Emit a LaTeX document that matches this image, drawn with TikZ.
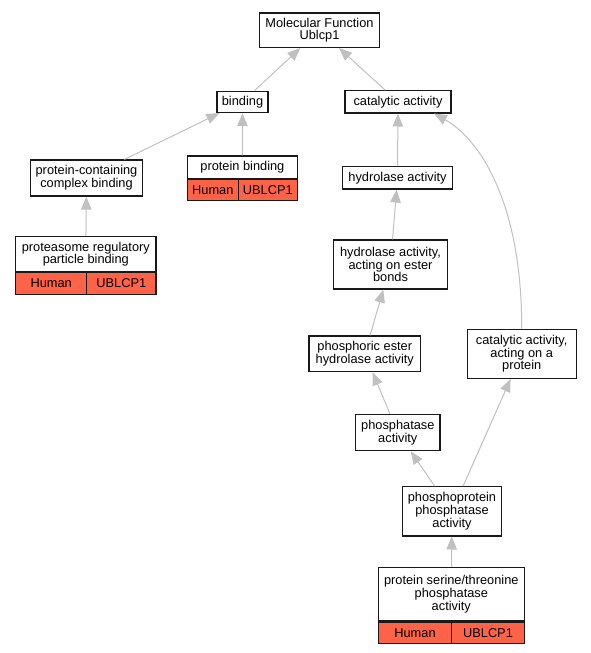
\documentclass[tikz,border=0pt]{standalone}
\usepackage{fontspec}
\setmainfont{Liberation Sans}
\usetikzlibrary{arrows.meta}
\newcommand{\gofont}{\fontsize{12.8}{12.7}\selectfont}
\definecolor{hitred}{HTML}{FF6347}
\definecolor{edgegray}{HTML}{C0C0C0}
\tikzset{
    BX/.style ={rectangle, draw=black!90, line width=1.1pt, fill=white, align=center, inner sep=1pt, font=\gofont},
    RD/.style ={BX, fill=hitred, minimum height=21.3pt},
    AR/.style ={draw=edgegray, line width=1pt, -{Triangle[length=13pt,width=10.5pt]}}}
\begin{document}
\begin{tikzpicture}[x=1pt,y=-1pt]
        \useasboundingbox (0,0) rectangle (591,653);
        \node[BX, minimum width=120pt, minimum height=34.5pt] (mf) at (319.5,30.2) {Molecular Function\\Ublcp1};
        \node[BX, minimum width=51pt, minimum height=21.5pt] (bnd) at (242.5,101.8) {binding};
        \node[BX, minimum width=106pt, minimum height=22.3pt] (cat) at (398,101.8) {catalytic activity};
        \node[BX, minimum width=112pt, minimum height=36pt] (pccb) at (86.5,178) {protein-containing\\complex binding};
        \node[BX, minimum width=110pt, minimum height=22.3pt] (pb) at (242.4,167.1) {protein binding};
        \node[RD, minimum width=50.8pt, anchor=north west] (pbh) at (pb.south west) {Human};
        \node[RD, minimum width=59.2pt, anchor=north east] (pbg) at (pb.south east) {UBLCP1};
        \node[BX, minimum width=109.6pt, minimum height=22.3pt] (hyd) at (397.5,177.8) {hydrolase activity};
        \node[BX, minimum width=140.3pt, minimum height=35pt] (prb) at (85.8,254.2) {proteasome regulatory\\particle binding};
        \node[RD, minimum width=71pt, anchor=north west] (prbh) at (prb.south west) {Human};
        \node[RD, minimum width=69.3pt, anchor=north east] (prbg) at (prb.south east) {UBLCP1};
        \node[BX, minimum width=114.4pt, minimum height=49pt] (hyde) at (390.5,264.5) {hydrolase activity,\\acting on ester\\bonds};
        \node[BX, minimum width=111.7pt, minimum height=35.7pt] (phe) at (364.8,353.8) {phosphoric ester\\hydrolase activity};
        \node[BX, minimum width=108.7pt, minimum height=49.3pt] (cap) at (521.7,353.7) {catalytic activity,\\acting on a\\protein};
        \node[BX, minimum width=84.3pt, minimum height=36.4pt] (pha) at (397.8,432.5) {phosphatase\\activity};
        \node[BX, minimum width=98.6pt, minimum height=49.3pt] (ppp) at (452,511.3) {phosphoprotein\\phosphatase\\activity};
        \node[BX, minimum width=146pt, minimum height=53.5pt] (pst) at (451.3,594.2) {protein serine/threonine\\phosphatase\\activity};
        \node[RD, minimum width=73.4pt, anchor=north west] (psth) at (pst.south west) {Human};
        \node[RD, minimum width=72.6pt, anchor=north east] (pstg) at (pst.south east) {UBLCP1};
        \draw[AR] (bnd) -- (mf);
        \draw[AR] (cat) -- (mf);
        \draw[AR] (pccb) -- (bnd);
        \draw[AR] (pb) -- (bnd);
        \draw[AR] (prb) -- (pccb);
        \draw[AR] (hyd) -- (cat);
        \draw[AR] (cap.north) .. controls (522,200) and (478,138) .. (cat.-18);
        \draw[AR] (hyde) -- (hyd);
        \draw[AR] (phe) -- (hyde);
        \draw[AR] (pha) -- (phe);
        \draw[AR] (ppp) -- (pha);
        \draw[AR] (ppp) -- (cap);
        \draw[AR] (pst) -- (ppp);
    \end{tikzpicture}
\end{document}
